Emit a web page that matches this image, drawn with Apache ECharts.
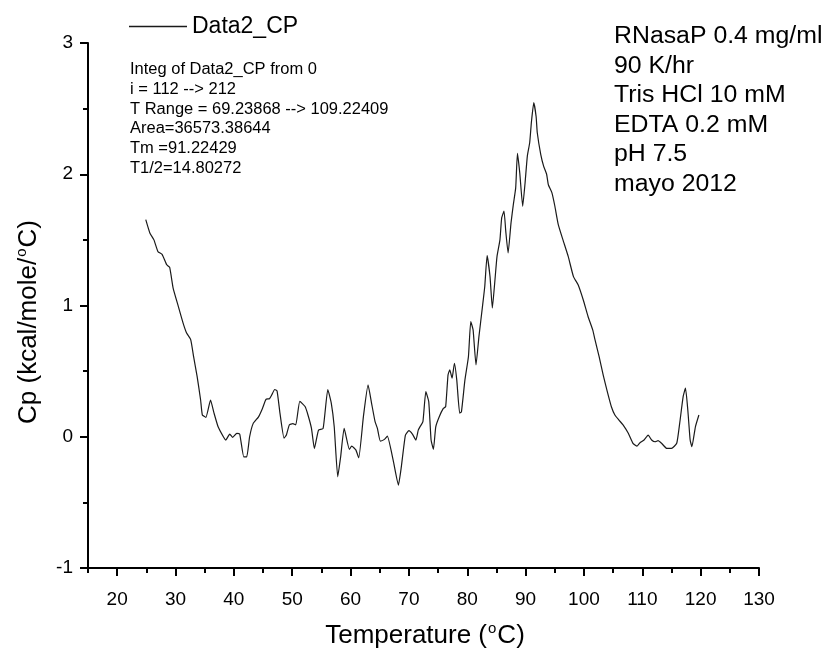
<!DOCTYPE html>
<html>
<head>
<meta charset="utf-8">
<script src="https://cdn.jsdelivr.net/npm/echarts@6/dist/echarts.min.js"></script>
<style>
  html, body { margin: 0; padding: 0; background: #fff; }
  #chart { width: 826px; height: 651px; }
</style>
</head>
<body>
<div id="chart"></div>
<script>
// DSC scan: excess heat capacity vs temperature
const temperature = [
  24.9, 25.6, 26.3, 27.0, 27.7, 28.5, 29.0, 29.6, 30.5, 31.3, 31.9, 32.6, 33.1, 33.7, 34.3, 34.6,
  35.2, 36.0, 36.6, 37.3, 38.2, 38.6, 39.3, 39.8, 40.5, 41.0, 41.7, 42.2, 42.7, 43.3, 44.2, 44.9,
  45.5, 46.1, 46.5, 47.0, 47.4, 47.9, 48.6, 49.0, 49.5, 50.1, 50.6, 51.3, 52.2, 52.7, 53.3, 53.8,
  54.5, 55.3, 56.1, 56.7, 57.2, 57.8, 58.3, 58.9, 59.8, 60.2, 60.9, 61.4, 62.2, 63.0, 63.6, 64.2,
  64.6, 65.1, 65.8, 66.3, 67.3, 68.2, 68.7, 69.4, 70.0, 70.6, 71.2, 71.6, 71.9, 72.4, 72.9, 73.4,
  73.8, 74.2, 74.6, 75.2, 75.9, 76.3, 76.7, 77.0, 77.4, 77.8, 78.2, 78.7, 79.0, 79.6, 80.2, 80.6,
  81.0, 81.5, 82.0, 82.6, 83.0, 83.4, 83.9, 84.3, 84.7, 85.1, 85.6, 85.9, 86.3, 86.6, 87.0, 87.5,
  87.9, 88.3, 88.6, 89.0, 89.5, 89.9, 90.3, 90.7, 91.0, 91.4, 91.8, 92.0, 92.6, 93.1, 93.6, 93.9,
  94.5, 95.0, 95.6, 96.4, 97.3, 98.2, 99.0, 99.9, 100.7, 101.5, 101.9, 102.6, 103.3, 104.0, 104.7, 105.3,
  106.0, 106.7, 107.6, 108.4, 109.1, 109.6, 110.3, 111.0, 111.6, 112.2, 112.7, 113.3, 114.2, 115.0, 115.9, 116.4,
  117.0, 117.4, 117.8, 118.2, 118.5, 119.1, 119.7
];
const cp = [
  1.654, 1.553, 1.50, 1.41, 1.39, 1.31, 1.29, 1.13, 0.99, 0.866, 0.79, 0.74, 0.61, 0.46, 0.28, 0.166,
  0.148, 0.28, 0.18, 0.076, 0.0, -0.025, 0.02, -0.005, 0.026, 0.02, -0.153, -0.153, 0.0, 0.10, 0.15, 0.216,
  0.285, 0.29, 0.32, 0.36, 0.35, 0.18, -0.01, 0.013, 0.09, 0.10, 0.09, 0.27, 0.23, 0.166, 0.064, -0.09,
  0.05, 0.064, 0.36, 0.255, 0.076, -0.305, -0.153, 0.064, -0.096, -0.071, -0.10, -0.16, 0.153, 0.395, 0.255, 0.115,
  0.064, -0.033, -0.02, 0.005, -0.178, -0.368, -0.229, 0.013, 0.046, 0.02, -0.025, 0.05, 0.076, 0.115, 0.344, 0.267,
  -0.025, -0.096, 0.076, 0.153, 0.216, 0.23, 0.47, 0.51, 0.446, 0.56, 0.433, 0.18, 0.19, 0.433, 0.61, 0.878,
  0.814, 0.547, 0.763, 0.99, 1.145, 1.38, 1.22, 0.98, 1.17, 1.374, 1.50, 1.667, 1.72, 1.565, 1.40, 1.63,
  1.77, 1.896, 2.16, 2.01, 1.756, 1.93, 2.14, 2.24, 2.40, 2.545, 2.44, 2.316, 2.15, 2.06, 2.0, 1.92,
  1.86, 1.76, 1.616, 1.50, 1.374, 1.22, 1.158, 1.04, 0.916, 0.814, 0.738, 0.61, 0.47, 0.344, 0.229, 0.166,
  0.127, 0.09, 0.026, -0.05, -0.071, -0.046, -0.025, 0.013, -0.025, -0.038, -0.03, -0.05, -0.089, -0.089, -0.05, 0.10,
  0.305, 0.37, 0.204, -0.025, -0.076, 0.076, 0.166
];

const xMajorTicks = [20, 30, 40, 50, 60, 70, 80, 90, 100, 110, 120, 130];
const xMinorTicks = [15, 25, 35, 45, 55, 65, 75, 85, 95, 105, 115, 125];
const seriesName = 'Data2_CP';
const integrationNotes = [
  'Integ of Data2_CP from 0',
  'i = 112 --> 212',
  'T Range = 69.23868 --> 109.22409',
  'Area=36573.38644',
  'Tm =91.22429',
  'T1/2=14.80272'
];
const sampleNotes = [
  'RNasaP 0.4 mg/ml',
  '90 K/hr',
  'Tris HCl 10 mM',
  'EDTA 0.2 mM',
  'pH 7.5',
  'mayo 2012'
];

const FONT = '"Liberation Sans", Arial, sans-serif';
const points = temperature.map((t, i) => [t, cp[i]]);

const chart = echarts.init(document.getElementById('chart'), null, { renderer: 'canvas' });

// axis titles with a superscript "o" for the degree sign
const titleRich = {
  n: { fontSize: 26, fontFamily: FONT, color: '#000' },
  s: { fontSize: 15, fontFamily: FONT, color: '#000', verticalAlign: 'top', padding: [0, 1, 14, 1] }
};

chart.setOption({
  backgroundColor: '#fff',
  animation: false,
  grid: { left: 88, right: 67, top: 43, bottom: 83, containLabel: false },
  legend: {
    left: 124, top: 10,
    itemWidth: 58, itemHeight: 1.4, itemGap: 8,
    icon: 'rect',
    itemStyle: { color: '#1a1a1a' },
    textStyle: { fontSize: 23, fontFamily: FONT, color: '#000' },
    data: [{ name: seriesName }]
  },
  xAxis: [{
    type: 'value', min: 15, max: 130,
    axisLine: { show: true, onZero: false, lineStyle: { color: '#000', width: 2 } },
    axisTick: { show: true, inside: false, length: 8, lineStyle: { color: '#000', width: 2 }, customValues: xMajorTicks },
    axisLabel: { show: true, margin: 22, fontSize: 19, fontFamily: FONT, color: '#000', customValues: xMajorTicks },
    splitLine: { show: false }
  }, {
    type: 'value', min: 15, max: 130, position: 'bottom',
    axisLine: { show: false, onZero: false },
    axisTick: { show: true, inside: false, length: 5, lineStyle: { color: '#000', width: 2 }, customValues: xMinorTicks },
    axisLabel: { show: false },
    splitLine: { show: false }
  }],
  yAxis: {
    type: 'value', min: -1, max: 3, interval: 1,
    axisLine: { show: true, onZero: false, lineStyle: { color: '#000', width: 2 } },
    axisTick: { show: true, inside: false, length: 8, lineStyle: { color: '#000', width: 2 } },
    minorTick: { show: true, splitNumber: 2, length: 5, lineStyle: { color: '#000', width: 2 } },
    axisLabel: { margin: 15, fontSize: 19, fontFamily: FONT, color: '#000' },
    splitLine: { show: false },
    minorSplitLine: { show: false }
  },
  series: [{
    name: seriesName,
    type: 'line',
    xAxisIndex: 0,
    data: points,
    symbol: 'none',
    smooth: 0.15,
    lineStyle: { color: '#1a1a1a', width: 1.2 },
    itemStyle: { color: '#1a1a1a' }
  }],
  graphic: [{
    type: 'text', left: 130, top: 60, scaleX: 1.03,
    style: {
      text: integrationNotes.join('\n'),
      font: '16px ' + FONT, lineHeight: 19.7, fill: '#000'
    }
  }, {
    type: 'text', left: 614, top: 22, scaleX: 1.08,
    style: {
      text: sampleNotes.join('\n'),
      font: '23px ' + FONT, lineHeight: 29.5, fill: '#000'
    }
  }, {
    type: 'text', x: 425, y: 636,
    style: {
      text: '{n|Temperature (}{s|o}{n|C)}',
      rich: titleRich, align: 'center', verticalAlign: 'middle'
    }
  }, {
    type: 'text', x: 29, y: 322, rotation: Math.PI / 2,
    style: {
      text: '{n|Cp (kcal/mole/}{s|o}{n|C)}',
      rich: titleRich, align: 'center', verticalAlign: 'middle'
    }
  }]
});
</script>
</body>
</html>
